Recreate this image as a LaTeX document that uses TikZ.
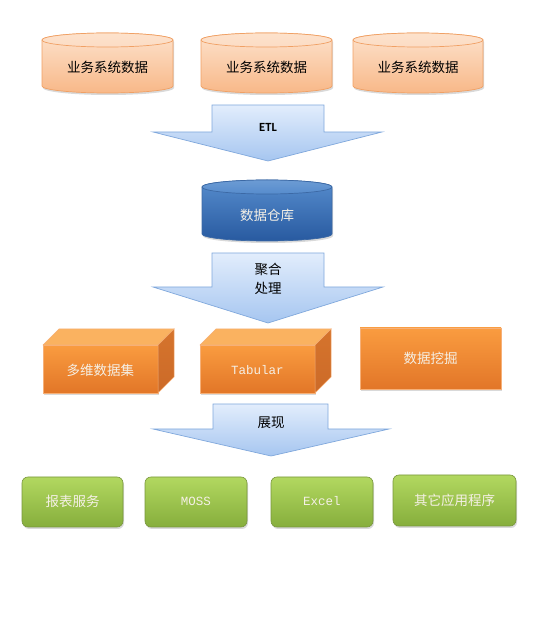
\documentclass[tikz,border=0pt]{standalone}
\usepackage{fontspec}
\setmainfont{Noto Sans CJK SC}
\newfontfamily\cjk{Noto Sans CJK SC}
\newfontfamily\monof{Liberation Mono}
\newfontfamily\calib{Carlito}
\usetikzlibrary{shadows}
\definecolor{peachT}{RGB}{253,226,204}
\definecolor{peachB}{RGB}{248,184,136}
\definecolor{peachE}{RGB}{252,220,196}
\definecolor{peachL}{RGB}{240,160,100}
\definecolor{blueT}{RGB}{86,140,205}
\definecolor{blueB}{RGB}{40,90,160}
\definecolor{blueE}{RGB}{108,155,212}
\definecolor{blueL}{RGB}{60,105,165}
\definecolor{arrT}{RGB}{226,237,252}
\definecolor{arrB}{RGB}{166,198,240}
\definecolor{arrL}{RGB}{128,168,220}
\definecolor{orT}{RGB}{250,156,64}
\definecolor{orB}{RGB}{226,118,40}
\definecolor{orTop}{RGB}{250,178,96}
\definecolor{orSide}{RGB}{204,106,40}
\definecolor{orL}{RGB}{246,176,120}
\definecolor{grT}{RGB}{178,216,96}
\definecolor{grB}{RGB}{134,174,60}
\definecolor{grL}{RGB}{120,150,60}
\definecolor{lighttext}{RGB}{245,240,230}
\tikzset{
  every node/.style={inner sep=0pt},
  cjktext/.style={font=\cjk\fontsize{13.5}{16}\selectfont},
  monotext/.style={font=\monof\fontsize{12.5}{14}\selectfont,text=lighttext},
  shadowed/.style={drop shadow={opacity=0.3,shadow xshift=1pt,shadow yshift=-2pt}},
  peachcyl/.style={draw=peachL,line width=0.7pt,top color=peachT,bottom color=peachB,shadowed},
  peachend/.style={draw=peachL,line width=0.7pt,top color=peachT,bottom color=peachE},
  bluecyl/.style={draw=blueL,line width=0.7pt,top color=blueT,bottom color=blueB,shadowed},
  blueend/.style={draw=blueL,line width=0.7pt,top color=blueE,bottom color=blueT},
  bigarrow/.style={draw=arrL,line width=0.7pt,top color=arrT,bottom color=arrB},
  cubefront/.style={draw=orL,line width=0.5pt,top color=orT,bottom color=orB,shadowed},
  cubetop/.style={draw=orL,line width=0.5pt,fill=orTop},
  cubeside/.style={draw=orL,line width=0.5pt,top color=orSide!80!orT,bottom color=orSide},
  minebox/.style={draw=orL,line width=0.8pt,top color=orT,bottom color=orB,shadowed},
  greenbox/.style={draw=grL,line width=0.6pt,rounded corners=6pt,top color=grT,bottom color=grB,shadowed},
}
\begin{document}
\begin{tikzpicture}[x=1pt,y=1pt]
\useasboundingbox (0,0) rectangle (554,625);
% ---- top cylinders
\foreach \xa/\xb in {42/173,201/332,353/483}{
  \pgfmathsetmacro{\rx}{(\xb-\xa)/2}
  \pgfmathsetmacro{\cx}{(\xb+\xa)/2}
  \path[peachcyl] (\xa,585) -- (\xa,539) arc[start angle=180,end angle=360,x radius=\rx,y radius=7]
     -- (\xb,585) arc[start angle=0,end angle=180,x radius=\rx,y radius=7] -- cycle;
  \path[peachend] (\cx,585) ellipse[x radius=\rx,y radius=7];
}
\node[cjktext] (s1) at (107.5,558) {业务系统数据};
\node[cjktext] (s2) at (266.5,558) {业务系统数据};
\node[cjktext] (s3) at (418,558) {业务系统数据};
% ---- ETL arrow
\path[bigarrow] (212,520) -- (324,520) -- (324,493) -- (382,493) -- (268,464) -- (153,493) -- (212,493) -- cycle;
\node[font=\calib\bfseries\fontsize{12.5}{14}\selectfont] (etl) at (268,498) {ETL};
% ---- warehouse
\path[bluecyl] (202,438) -- (202,391) arc[start angle=180,end angle=360,x radius=65,y radius=7]
   -- (332,438) arc[start angle=0,end angle=180,x radius=65,y radius=7] -- cycle;
\path[blueend] (267,438) ellipse[x radius=65,y radius=7];
\node[cjktext,text=lighttext] (dw) at (267,410) {数据仓库};
% ---- aggregate arrow
\path[bigarrow] (212,372) -- (324,372) -- (324,338) -- (383,338) -- (268,302) -- (153,338) -- (212,338) -- cycle;
\node[cjktext,align=center] (agg) at (268,346.5) {聚合\\[3pt]处理};
% ---- cubes
\foreach \xa/\xb in {43/158,200/315}{
  \path[cubefront] (\xa,232) rectangle (\xb,280);
  \path[cubetop] (\xa,280) -- (\xa+16,296) -- (\xb+16,296) -- (\xb,280) -- cycle;
  \path[cubeside] (\xb,280) -- (\xb+16,296) -- (\xb+16,248) -- (\xb,232) -- cycle;
}
\node[cjktext,text=lighttext] (mdc) at (100.5,255) {多维数据集};
\node[monotext] (tab) at (257.5,255) {Tabular};
\path[minebox] (360,236) rectangle (501,297);
\node[cjktext,text=lighttext] (dm) at (430.5,267) {数据挖掘};
% ---- show arrow
\path[bigarrow] (213,221) -- (328,221) -- (328,196) -- (389,196) -- (271,169) -- (153,196) -- (213,196) -- cycle;
\node[cjktext] (show) at (271,202) {展现};
% ---- green boxes
\path[greenbox] (22,98) rectangle (123,148);
\path[greenbox] (145,98) rectangle (247,148);
\path[greenbox] (271,98) rectangle (373,148);
\path[greenbox] (393,99) rectangle (516,150);
\node[cjktext,text=lighttext] (g1) at (72.5,124) {报表服务};
\node[monotext] (g2) at (196,124) {MOSS};
\node[monotext] (g3) at (322,124) {Excel};
\node[cjktext,text=lighttext] (g4) at (454.5,125) {其它应用程序};
\end{tikzpicture}
\end{document}
